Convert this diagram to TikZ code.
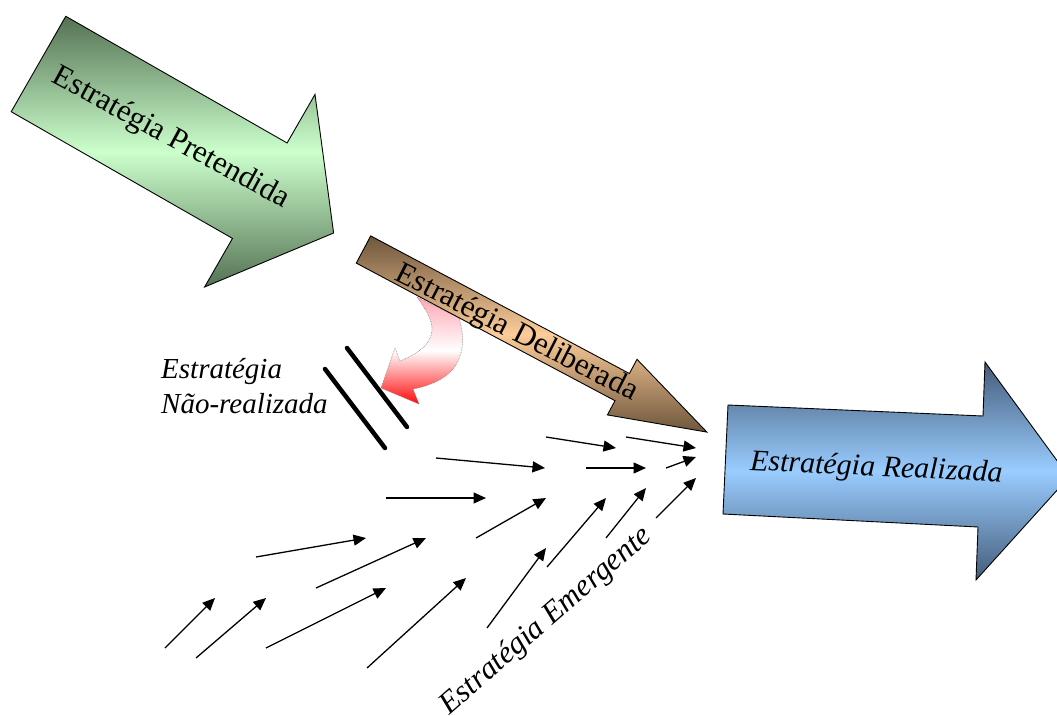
\documentclass[tikz,border=0pt]{standalone}
\usepackage{fontspec}
\setmainfont{Liberation Serif}
\usetikzlibrary{arrows.meta}

% colours of the three big arrows and the curved arrow
\definecolor{gDark}{RGB}{84,114,84}
\definecolor{gLight}{RGB}{204,255,204}
\definecolor{bDark}{RGB}{110,86,60}
\definecolor{bLight}{RGB}{252,204,153}
\definecolor{uDark}{RGB}{68,92,122}
\definecolor{uLight}{RGB}{153,204,255}
\definecolor{rTop}{RGB}{255,165,180}
\definecolor{rBot}{RGB}{255,10,10}

\tikzset{
  outline/.style={draw=black, line width=0.9pt, line join=miter},
  % middle colour has to come after top and bottom colour
  band/.style 2 args={top color=#1, bottom color=#1, middle color=#2},
  flow/.style={line width=1.3pt, -{Triangle[length=12.5pt,width=11pt]}},
  bar/.style={line width=4.5pt, line cap=round},
  label/.style={inner sep=0pt, anchor=base, text=black},
}

\begin{document}
\begin{tikzpicture}[x=1pt, y=-1pt]
\useasboundingbox (0,0) rectangle (1057,715);
\fill[white] (0,0) rectangle (1057,715);
\clip (0,0) rectangle (1057,715);

% intended strategy: wide green arrow
\shade[outline, band={gDark}{gLight}]
  (65.8,16.3) -- (287.1,143.0) -- (315.0,94.4) -- (333.6,233.0)
  -- (204.6,287.0) -- (232.5,238.4) -- (11.2,111.7) -- cycle;

% unrealized part bending away
\shade[draw=gray, densely dotted, line width=0.6pt,
       top color=rTop, bottom color=rBot, middle color=white]
  (417,297) -- (459,318)
  .. controls (466,340) and (463,362) .. (447,375)
  .. controls (438,382) and (425,387) .. (413,389)
  -- (419,404) -- (381,388) -- (395,348) -- (400,361)
  .. controls (420,353) and (433,342) .. (432,328)
  .. controls (431,315) and (422,305) .. (417,297) -- cycle;

% deliberate strategy: narrow brown arrow
\shade[outline, band={bDark}{bLight}]
  (370.7,235.9) -- (629.4,373.5) -- (637.0,359.3) -- (706.9,432.1)
  -- (607.4,414.9) -- (615.0,400.7) -- (356.3,263.1) -- cycle;

% realized strategy: blue arrow
\shade[outline, band={uDark}{uLight}]
  (728,405) -- (983,416) -- (985,362) -- (1069,477)
  -- (976,580) -- (978,527) -- (723,514) -- cycle;

% barrier of the unrealized strategy
\coordinate (barAs) at (347,348); \coordinate (barAt) at (407,427);
\coordinate (barBs) at (325,369); \coordinate (barBt) at (385,448);
\draw[bar] (barAs) -- (barAt);
\draw[bar] (barBs) -- (barBt);

% emergent strategy: many small arrows
\foreach \i/\a/\b in {
   1/{165,648}/{215,598},
   2/{196,658}/{266,598},
   3/{266,648}/{386,588},
   4/{367,668}/{466,578},
   5/{487,628}/{546,548},
   6/{547,567}/{606,498},
   7/{606,538}/{646,488},
   8/{656,518}/{696,478},
   9/{256,557}/{366,538},
  10/{316,588}/{426,538},
  11/{386,498}/{486,498},
  12/{476,538}/{546,498},
  13/{436,458}/{545,468},
  14/{586,468}/{646,468},
  15/{666,468}/{696,457},
  16/{546,437}/{616,448},
  17/{626,437}/{696,448}} {
  \coordinate (es\i) at (\a);
  \coordinate (et\i) at (\b);
  \draw[flow] (es\i) -- (et\i);
}

% labels
\node[label, rotate=-28.5, font=\fontsize{31}{37}\selectfont] (pretendida) at (167,145) {Estratégia Pretendida};
\node[label, rotate=-27, font=\fontsize{31}{37}\selectfont] (deliberada) at (513,340) {Estratégia Deliberada};
\node[label, rotate=-2.7, font=\fontsize{30}{36}\selectfont\itshape] (realizada) at (876,476) {Estratégia Realizada};
\node[label, rotate=41, font=\fontsize{31}{37}\selectfont\itshape] (emergente) at (551,627) {Estratégia Emergente};
\node[label, anchor=base west, font=\fontsize{29}{35}\selectfont\itshape] (naoA) at (161,378) {Estratégia};
\node[label, anchor=base west, font=\fontsize{29}{35}\selectfont\itshape] (naoB) at (161,413) {Não-realizada};
\end{tikzpicture}
\end{document}
